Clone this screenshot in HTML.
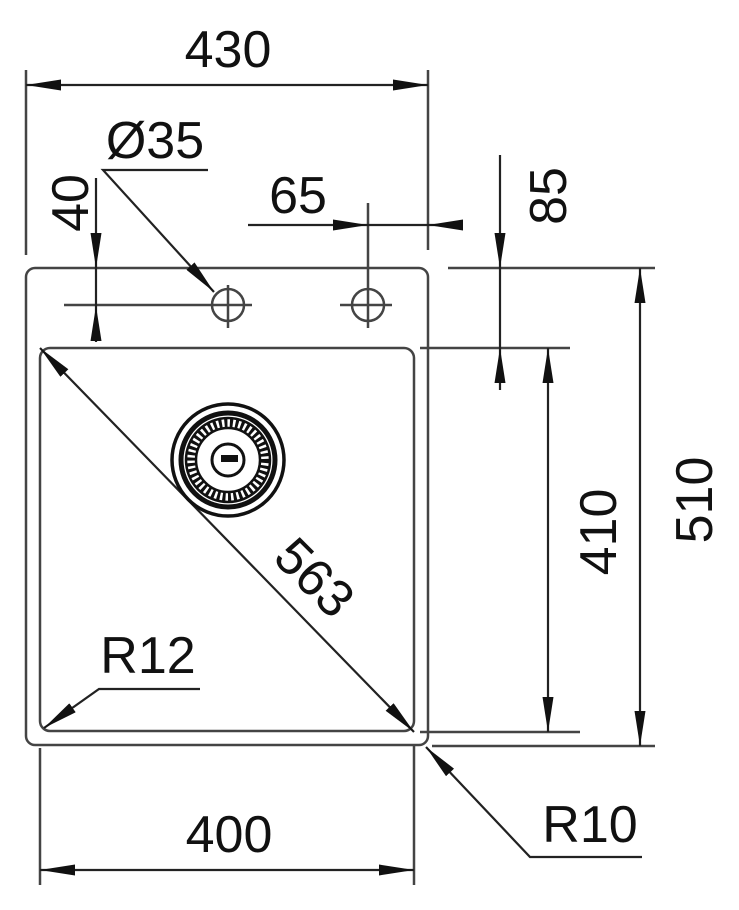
<!DOCTYPE html>
<html><head><style>html,body{margin:0;padding:0;background:#fff}svg{display:block}</style></head>
<body>
<svg width="739" height="910" viewBox="0 0 739 910" xmlns="http://www.w3.org/2000/svg">
<defs>
<marker id="a" viewBox="0 0 10 10" refX="10" refY="5" markerWidth="35" markerHeight="11" markerUnits="userSpaceOnUse" orient="auto-start-reverse" preserveAspectRatio="none">
<path d="M0,0 L10,5 L0,10 z" fill="#111"/></marker>
</defs>
<g fill="none" stroke="#444" stroke-width="2.5">
<rect x="26" y="268" width="402" height="477" rx="9"/>
<rect x="40" y="348" width="374" height="383" rx="10"/>
<line x1="26" y1="70" x2="26" y2="255"/>
<line x1="428" y1="70" x2="428" y2="250"/>
<line x1="448" y1="268" x2="655" y2="268"/>
<line x1="420" y1="348" x2="570" y2="348"/>
<line x1="420" y1="732" x2="580" y2="732"/>
<line x1="432" y1="746" x2="655" y2="746"/>
<line x1="40" y1="748" x2="40" y2="885"/>
<line x1="414" y1="746" x2="414" y2="885"/>
<line x1="64" y1="305" x2="252" y2="305"/>
<line x1="340" y1="305" x2="392" y2="305"/>
<line x1="228" y1="285" x2="228" y2="328"/>
<line x1="368" y1="203" x2="368" y2="328"/>
<circle cx="228" cy="305" r="16"/>
<circle cx="368" cy="305" r="16"/>
</g>
<g stroke="#222" stroke-width="2.2" fill="none">
<line x1="26" y1="85" x2="428" y2="85" marker-start="url(#a)" marker-end="url(#a)"/>
<line x1="96" y1="178" x2="96" y2="268" marker-end="url(#a)"/>
<line x1="96" y1="342" x2="96" y2="306" marker-end="url(#a)"/>
<line x1="96" y1="268" x2="96" y2="306"/>
<polyline points="208,170 103,170 214,292" marker-end="url(#a)"/>
<line x1="248" y1="225" x2="368" y2="225" marker-end="url(#a)"/>
<line x1="462" y1="225" x2="428" y2="225" marker-end="url(#a)"/>
<line x1="368" y1="225" x2="428" y2="225"/>
<line x1="500" y1="155" x2="500" y2="268" marker-end="url(#a)"/>
<line x1="500" y1="390" x2="500" y2="348" marker-end="url(#a)"/>
<line x1="500" y1="268" x2="500" y2="348"/>
<line x1="548" y1="348" x2="548" y2="732" marker-start="url(#a)" marker-end="url(#a)"/>
<line x1="640" y1="268" x2="640" y2="746" marker-start="url(#a)" marker-end="url(#a)"/>
<line x1="40" y1="348" x2="414" y2="732" marker-start="url(#a)" marker-end="url(#a)"/>
<polyline points="200,689 99,689 44,728" marker-end="url(#a)"/>
<polyline points="642,857 530,857 426,747" marker-end="url(#a)"/>
<line x1="40" y1="870" x2="414" y2="870" marker-start="url(#a)" marker-end="url(#a)"/>
</g>
<g fill="none" stroke="#111">
<circle cx="228" cy="460" r="56" stroke-width="3.5"/>
<circle cx="228" cy="460" r="47" stroke-width="5"/>
<circle cx="228" cy="460" r="37" stroke-width="10" stroke-dasharray="3 2.5"/>
<circle cx="228" cy="460" r="42" stroke-width="2.5"/>
<circle cx="228" cy="460" r="32" stroke-width="2.5"/>
<circle cx="228" cy="460" r="16" stroke-width="3"/>
</g>
<rect x="221" y="455" width="17" height="7" fill="#111"/>
<g font-family="Liberation Sans, sans-serif" font-size="52" fill="#111" text-anchor="middle">
<text x="228" y="67">430</text>
<text x="155" y="158">Ø35</text>
<text x="298" y="213">65</text>
<text x="229" y="852">400</text>
<text x="148" y="673">R12</text>
<text x="590" y="842">R10</text>
<text transform="translate(88,203) rotate(-90)">40</text>
<text transform="translate(566,196) rotate(-90)">85</text>
<text transform="translate(616,532) rotate(-90)">410</text>
<text transform="translate(712,500) rotate(-90)">510</text>
<text transform="translate(302,590) rotate(45)">563</text>
</g>
</svg>
</body></html>
